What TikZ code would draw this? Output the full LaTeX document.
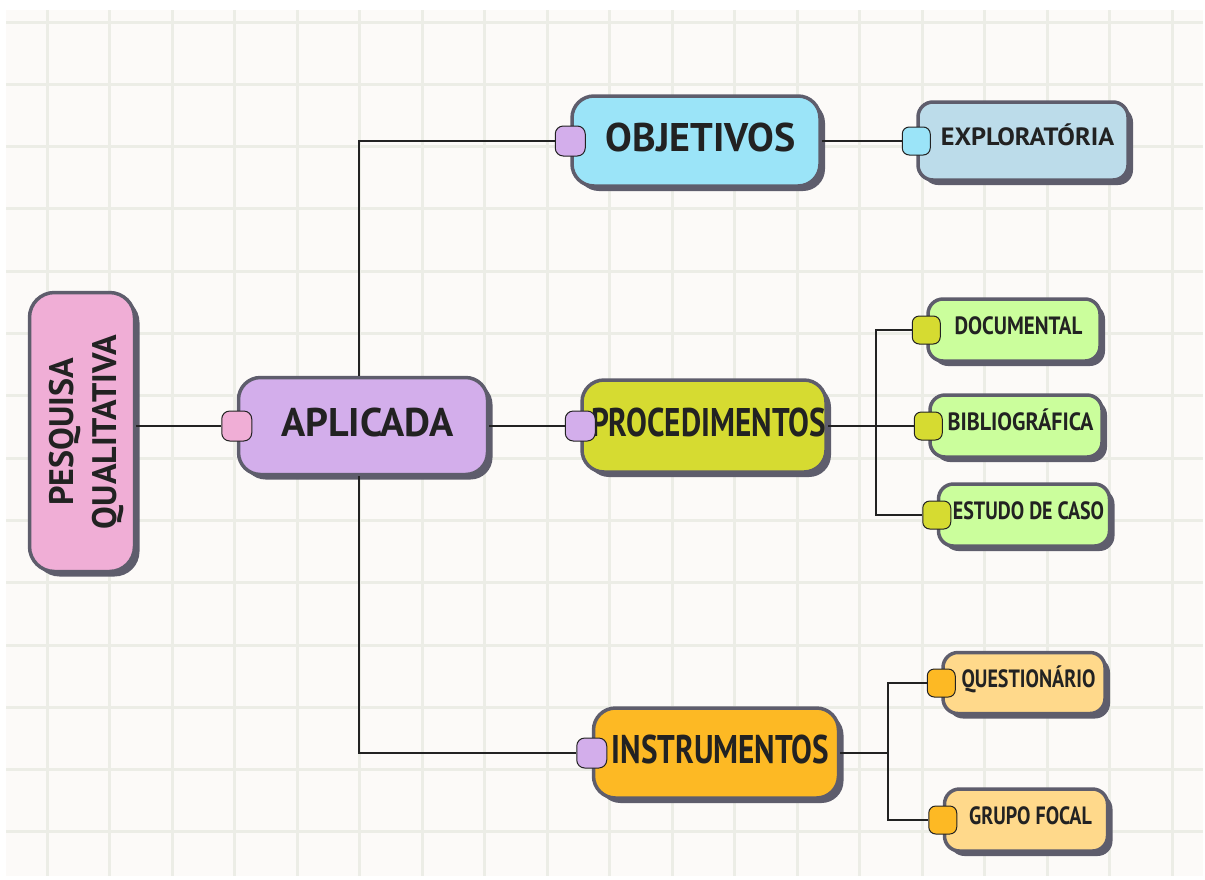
\documentclass[tikz,border=0pt]{standalone}
\usepackage{fontspec}
\setmainfont{PT Sans}
\usetikzlibrary{shadows,positioning}

\definecolor{paper}{HTML}{FCFAF8}
\definecolor{gridline}{HTML}{ECEDE6}
\definecolor{edge}{HTML}{5E5D6C}
\definecolor{ink}{HTML}{222222}
\definecolor{pinkbox}{HTML}{F0AED6}
\definecolor{lilac}{HTML}{D3AEEB}
\definecolor{cyanport}{HTML}{9BE4F8}
\definecolor{paleblue}{HTML}{BCDCEA}
\definecolor{lime}{HTML}{D6DB31}
\definecolor{palegreen}{HTML}{CBFE9C}
\definecolor{amber}{HTML}{FDB924}
\definecolor{paleamber}{HTML}{FFD98B}

% narrow a label horizontally
\newcommand{\squeeze}[2]{\scalebox{#1}[1]{#2}}

\begin{document}
\begin{tikzpicture}[
  x=1pt, y=-1pt,
  box/.style={rectangle, draw=edge, line width=3.5pt, rounded corners=22pt, inner sep=0pt,
    text=ink, font=\fontsize{40}{44}\selectfont\bfseries, text height=28pt, text depth=8pt,
    execute at begin node={\hspace*{9pt}},
    drop shadow={shadow xshift=5pt, shadow yshift=-5pt, opacity=1, fill=edge}},
  leaf/.style={box, rounded corners=15pt, font=\fontsize{25}{28}\selectfont\bfseries, text height=17.5pt},
  port/.style={rectangle, draw=ink, line width=1pt, rounded corners=8pt, minimum size=30pt, inner sep=0pt},
  subport/.style={port, minimum size=28pt, rounded corners=7pt},
  link/.style={draw=ink, line width=1.2pt}
]
\useasboundingbox (0,0) rectangle (1205,879);

% paper with grid
\fill[white] (0,0) rectangle (1205,879);
\fill[paper] (6,10) rectangle (1203,876);
\foreach \gx in {0,...,18}
  \draw[gridline, line width=3pt] ({47+62.5*\gx},10) -- ({47+62.5*\gx},876);
\foreach \gy in {0,...,13}
  \draw[gridline, line width=3pt] (6,{22+62.3*\gy}) -- (1203,{22+62.3*\gy});

% main topics
\node[box, fill=pinkbox, rounded corners=25pt, minimum width=105pt, minimum height=279pt,
  text height={}, text depth={}, execute at begin node={}] (pesq) at (82,432)
  {\rotatebox{90}{\fontsize{34}{43}\selectfont\begin{tabular}{@{}c@{}}PESQUISA\\QUALITATIVA\end{tabular}}};
\node[box, fill=lilac, minimum width=249pt, minimum height=97pt] (apl) at (363,426) {APLICADA};
\node[box, fill=cyanport, minimum width=248pt, minimum height=90pt] (obj) at (696,141) {OBJETIVOS};
\node[box, fill=lime, minimum width=242pt, minimum height=92pt] (proc) at (704,426) {\squeeze{0.78}{PROCEDIMENTOS}};
\node[box, fill=amber, minimum width=245pt, minimum height=90pt] (ins) at (716,753) {\squeeze{0.78}{INSTRUMENTOS}};

% leaves
\node[leaf, fill=paleblue, minimum width=210pt, minimum height=78pt] (exp) at (1023,141) {\squeeze{1.05}{EXPLORATÓRIA}};
\node[leaf, fill=palegreen, minimum width=172pt, minimum height=62pt] (doc) at (1014,330) {\squeeze{0.84}{DOCUMENTAL}};
\node[leaf, fill=palegreen, minimum width=172pt, minimum height=62pt] (bib) at (1016,426) {\squeeze{0.88}{BIBLIOGRÁFICA}};
\node[leaf, fill=palegreen, minimum width=171pt, minimum height=62pt] (est) at (1024,515) {\squeeze{0.8}{ESTUDO DE CASO}};
\node[leaf, fill=paleamber, minimum width=162pt, minimum height=61pt] (que) at (1024,683) {\squeeze{0.8}{QUESTIONÁRIO}};
\node[leaf, fill=paleamber, minimum width=163pt, minimum height=62pt] (gru) at (1026,820) {\squeeze{0.8}{GRUPO FOCAL}};

% ports
\node[port, fill=pinkbox] (papl) at (apl.west) {};
\node[port, fill=lilac] (pobj) at (obj.west) {};
\node[port, fill=lilac] (pproc) at (proc.west) {};
\node[port, fill=lilac] (pins) at (ins.west) {};
\node[subport, fill=cyanport] (pexp) at (exp.west) {};
\node[subport, fill=lime] (pdoc) at (doc.west) {};
\node[subport, fill=lime] (pbib) at (bib.west) {};
\node[subport, fill=lime] (pest) at (est.west) {};
\node[subport, fill=amber] (pque) at (que.west) {};
\node[subport, fill=amber] (pgru) at (gru.west) {};

\coordinate (jproc) at (876,426);
\coordinate (jins) at (888,753);

% connectors
\draw[link] (pesq.east |- papl.west) -- (papl.west);
\draw[link] ([xshift=-4pt]apl.north) |- (pobj.west);
\draw[link] ([xshift=-4pt]apl.south) |- (pins.west);
\draw[link] (apl.east) -- (pproc.west);
\draw[link] (obj.east) -- (pexp.west);
\draw[link] (proc.east) -- (pbib.west);
\draw[link] (pdoc.west) -| (jproc) |- (pest.west);
\draw[link] (ins.east) -- (jins);
\draw[link] (pque.west) -| (jins) |- (pgru.west);
\end{tikzpicture}
\end{document}
